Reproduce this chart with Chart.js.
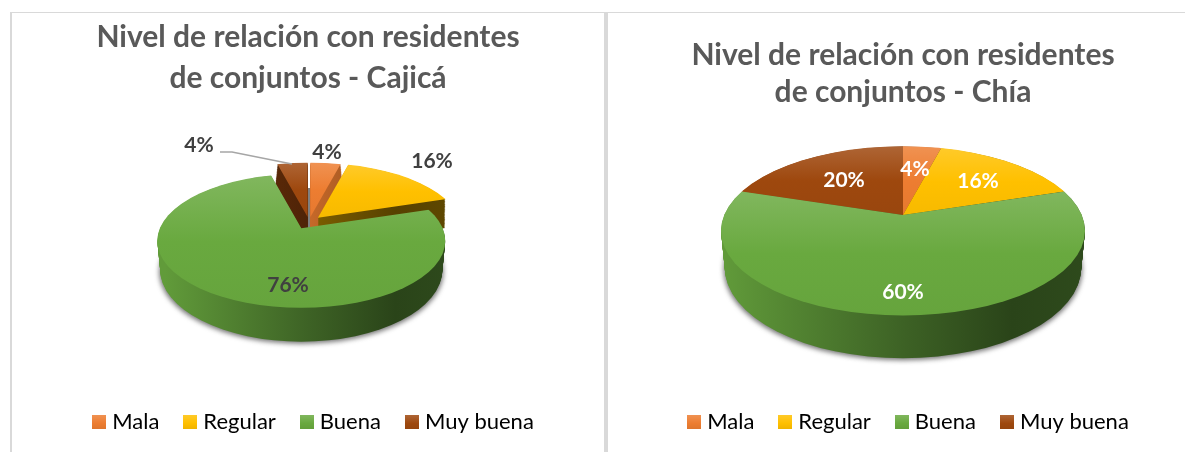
<!DOCTYPE html>
<html><head><meta charset="utf-8">
<script src="https://cdn.jsdelivr.net/npm/chart.js@4"></script>
<style>
html,body{margin:0;padding:0;background:#fff;width:1185px;height:452px;overflow:hidden}
canvas{position:absolute;top:0}
.rule{position:absolute;background:#d9d9d9}
</style></head><body>
<div class="rule" style="left:10px;top:12px;width:1175px;height:1px"></div>
<div class="rule" style="left:10px;top:12px;width:2px;height:440px"></div>
<div class="rule" style="left:604px;top:13px;width:4px;height:439px"></div>
<canvas id="c1" width="592" height="452" style="left:12px"></canvas>
<canvas id="c2" width="564" height="452" style="left:621px"></canvas>
<script>
const categories = ['Mala','Regular','Buena','Muy buena'];
const cajicaValues = [4,16,76,4];
const chiaValues = [4,16,60,20];
const sliceColors = ['#ED7D31','#FFC000','#69A93F','#9E480E'];
const titleCajica = ['Nivel de relación con residentes','de conjuntos - Cajicá'];
const titleChia = ['Nivel de relación con residentes','de conjuntos - Chía'];

const hex = c => [1,3,5].map(i => parseInt(c.substr(i,2),16));
const mix = (c,t,a) => { const h = hex(c); return `rgb(${h.map(v => Math.round(v+(t-v)*a)).join(',')})`; };
const shade = (c,f) => { const h = hex(c); return `rgb(${h.map(v => Math.round(Math.min(255,v*f))).join(',')})`; };

function legendSwatch(color){
  const cv = document.createElement('canvas'); cv.width = 14; cv.height = 14;
  const x = cv.getContext('2d'); const g = x.createLinearGradient(0,0,0,14);
  g.addColorStop(0,mix(color,255,.16)); g.addColorStop(.6,color); g.addColorStop(1,shade(color,.94));
  x.fillStyle = g; x.fillRect(0,0,14,14); return cv;
}
const swatches = sliceColors.map(legendSwatch);

function ellipsePath(ctx,x,y,rx,ry){ ctx.beginPath(); ctx.ellipse(x,y,rx,ry,0,0,Math.PI*2); }

const pie3d = {
  id:'pie3d',
  afterLayout(chart,args,o){
    chart.legend.left += o.legendShift; chart.legend.right += o.legendShift;
  },
  beforeDatasetsDraw(chart,args,o){
    const ctx = chart.ctx, arcs = chart.getDatasetMeta(0).data;
    const R = o.R, squash = .45, over = 1.45;
    const k = over*R/arcs[0].outerRadius;
    const discDy = .087*R, topRy = .465*R, botDy = .2*R + discDy, botRy = .5*R, botRx = .98*R, depth = botDy - discDy;
    const disp = arcs.map((a,i) => {
      const mid = (a.startAngle+a.endAngle)/2;
      return {x:Math.cos(mid)*o.explode[i], y:Math.sin(mid)*o.explode[i]*squash, mid};
    });
    // vertical extent of a slice's top face, relative to its apex
    const faceSpan = a => {
      let lo = 0, hi = 0;
      for (let n = 0; n <= 60; n++){
        const th = a.startAngle + (a.endAngle-a.startAngle)*n/60;
        const c = Math.cos(th)/R, s = Math.sin(th)*squash/topRy, e = discDy/topRy;
        const A = c*c+s*s, B = -2*s*e, C = e*e-1;
        const t = (-B+Math.sqrt(B*B-4*A*C))/(2*A);
        const y = t*Math.sin(th)*squash;
        lo = Math.min(lo,y); hi = Math.max(hi,y);
      }
      return [lo,hi];
    };
    // soft ground shadow under the disc
    ctx.save(); ctx.filter = 'blur(2.5px)'; ctx.fillStyle = 'rgba(70,70,70,.75)';
    const g0 = disp[o.largest];
    ellipsePath(ctx,o.cx+g0.x,o.cy+g0.y+botDy+2,botRx+1,botRy); ctx.fill(); ctx.restore();
    // thin inner wall visible in the gap between the pulled-out slices
    if (o.gapWall){
      ctx.save(); ctx.strokeStyle = '#7f7f7f'; ctx.lineWidth = 3; ctx.beginPath();
      ctx.moveTo(o.gapWall[0][0],o.gapWall[0][1]); ctx.lineTo(o.gapWall[1][0],o.gapWall[1][1]); ctx.stroke(); ctx.restore();
    }
    // back to front
    const order = arcs.map((a,i) => i).sort((a,b) => Math.sin(disp[a].mid)-Math.sin(disp[b].mid));
    for (const i of order){
      const arc = arcs[i], d = disp[i], base = sliceColors[i];
      const ox = o.cx+d.x, oy = o.cy+d.y;
      const place = (dy) => { ctx.translate(ox,oy+dy); ctx.scale(k,k*squash); ctx.translate(-arc.x,-arc.y); };
      const uy = sy => arc.y + (sy-oy)/(k*squash);
      const ux = sx => arc.x + (sx-ox)/k;
      const boost = o.wallBoost[i];
      for (let dz = depth; dz >= 0; dz -= 1){
        const t = dz/depth;
        ctx.save();
        ellipsePath(ctx,ox,oy+discDy+(botDy-discDy)*t,R+(botRx-R)*t,topRy+(botRy-topRy)*t); ctx.clip();
        place(dz);
        const g = ctx.createLinearGradient(ux(o.cx-R),0,ux(o.cx+R),0);
        g.addColorStop(0,shade(base,.92*boost)); g.addColorStop(.5,shade(base,.58*boost));
        g.addColorStop(.8,shade(base,.4*boost)); g.addColorStop(1,shade(base,.44*boost));
        const p = Object.create(arc); p.options = {...arc.options, backgroundColor:g, borderWidth:0};
        p.draw(ctx);
        ctx.restore();
      }
      ctx.save();
      ellipsePath(ctx,ox,oy+discDy,R,topRy); ctx.clip();
      place(0);
      const span = faceSpan(arc);
      const g = ctx.createLinearGradient(0,uy(oy+span[0]),0,uy(oy+span[1]));
      g.addColorStop(0,mix(base,255,.16)); g.addColorStop(.5,base); g.addColorStop(1,shade(base,.97));
      const p = Object.create(arc); p.options = {...arc.options, backgroundColor:g, borderWidth:0};
      p.draw(ctx);
      ctx.restore();
    }
    // value labels
    ctx.save();
    ctx.font = 'bold 21px Lato'; ctx.textAlign = 'center'; ctx.textBaseline = 'middle';
    if (o.leader){
      ctx.strokeStyle = '#a6a6a6'; ctx.lineWidth = 1.4; ctx.beginPath();
      o.leader.forEach((q,j) => j ? ctx.lineTo(q[0],q[1]) : ctx.moveTo(q[0],q[1])); ctx.stroke();
    }
    const vals = chart.data.datasets[0].data;
    vals.forEach((v,i) => {
      ctx.fillStyle = o.labelColor;
      ctx.fillText(v+'%',o.labelAt[i][0],o.labelAt[i][1]);
    });
    ctx.restore();
    return false;
  }
};

function makePie(id,values,title,titleTop,lineH,cfg){
  return new Chart(document.getElementById(id),{
    type:'pie',
    plugins:[pie3d],
    data:{labels:categories,datasets:[{data:values,backgroundColor:sliceColors,borderWidth:0}]},
    options:{
      responsive:false,animation:false,
      layout:{padding:{bottom:9}},
      plugins:{
        tooltip:{enabled:false},
        title:{display:true,text:title,color:'#595959',font:{family:'Lato',size:30,weight:'bold',lineHeight:lineH},padding:{top:titleTop,bottom:10}},
        legend:{position:'bottom',labels:{
          usePointStyle:true,boxWidth:4,padding:29,color:'#595959',font:{family:'Lato',size:22},
          generateLabels:()=>categories.map((t,i)=>({text:t,fillStyle:sliceColors[i],strokeStyle:sliceColors[i],lineWidth:0,pointStyle:swatches[i],hidden:false,index:i}))
        }},
        pie3d:cfg
      }
    }
  });
}

makePie('c1',cajicaValues,titleCajica,17,41/30,{
  R:144,cx:297,cy:222,explode:[11,13,16,11],largest:2,wallBoost:[1.45,.85,1,.85],labelColor:'#404040',legendShift:7.5,
  labelAt:[[315,152],[420,161],[276,285],[187,145]],
  leader:[[208,152],[220,152],[280,164]],
  gapWall:[[296.5,188],[296.5,228]]
});
makePie('c2',chiaValues,titleChia,37,37/30,{
  R:182,cx:282,cy:215,explode:[0,0,0,0],largest:2,wallBoost:[1,1,1,1],labelColor:'#ffffff',legendShift:7.5,
  labelAt:[[294,169],[357,181],[282,292],[223,180]]
});
</script>
</body></html>
